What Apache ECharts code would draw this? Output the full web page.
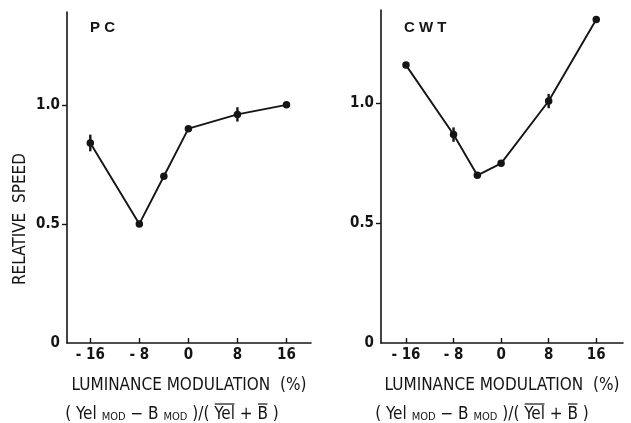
<!DOCTYPE html>
<html>
<head>
<meta charset="utf-8">
<script src="https://cdn.jsdelivr.net/npm/echarts@6/dist/echarts.min.js"></script>
<style>html,body{margin:0;padding:0;background:#fff}#c{width:631px;height:423px}</style>
</head>
<body>
<div id="c"></div>
<script>
const xValues = [-16, -8, -4, 0, 8, 16];
const pcSpeed = [0.84, 0.50, 0.70, 0.90, 0.96, 1.00];
const cwtSpeed = [1.16, 0.87, 0.70, 0.75, 1.01, 1.35];
const pcErr = [0.035, 0, 0, 0, 0.03, 0];
const cwtErr = [0, 0.03, 0, 0, 0.03, 0];
const xTicks = [-16, -8, 0, 8, 16];
const yTicks = [0, 0.5, 1.0];
const panelTitles = ['P C', 'C W T'];
const xName = 'LUMINANCE MODULATION  (%)';
const yName = 'RELATIVE  SPEED';

const FONT = "'Liberation Sans Narrow','DejaVu Sans Condensed','Roboto Condensed','Liberation Sans',sans-serif";
const INK = '#151515';

const chart = echarts.init(document.getElementById('c'), null, {renderer: 'canvas'});

function xAxisDef(idx, min, max) {
  return {
    type: 'value', gridIndex: idx, min: min, max: max,
    axisLine: {show: true, onZero: false, lineStyle: {color: INK, width: 1.6}},
    axisTick: {show: true, inside: true, length: 5, customValues: xTicks, lineStyle: {color: INK, width: 1.4}},
    axisLabel: {customValues: xTicks, color: INK, fontFamily: FONT, fontWeight: 'bold', fontSize: 15, margin: 5,
      formatter: v => v < 0 ? '- ' + Math.abs(v) : String(v)},
    splitLine: {show: false},
    name: xName, nameLocation: 'middle', nameGap: 34,
    nameTextStyle: {color: INK, fontFamily: FONT, fontSize: 17}
  };
}
function yAxisDef(idx) {
  return {
    type: 'value', gridIndex: idx, min: 0, max: 1.39,
    axisLine: {show: true, onZero: false, lineStyle: {color: INK, width: 1.6}},
    axisTick: {show: true, length: 5, customValues: [0.5, 1.0], lineStyle: {color: INK, width: 1.4}},
    axisLabel: {customValues: yTicks, color: INK, fontFamily: FONT, fontWeight: 'bold', fontSize: 15, margin: 7,
      formatter: v => v === 0 ? '0' : v.toFixed(1)},
    splitLine: {show: false}
  };
}
function pts(ys) { return xValues.map((x, i) => [x, ys[i]]); }
function errPts(ys, es) { return xValues.map((x, i) => [x, ys[i], es[i]]); }
function errRender(params, api) {
  const x = api.value(0), y = api.value(1), e = api.value(2);
  if (!e) return;
  const a = api.coord([x, y + e]), b = api.coord([x, y - e]);
  return {type: 'line', shape: {x1: a[0], y1: a[1], x2: b[0], y2: b[1]}, style: {stroke: INK, lineWidth: 2.4}};
}
function lineSeries(idx, ys) {
  return {type: 'line', xAxisIndex: idx, yAxisIndex: idx, data: pts(ys), symbol: 'circle', symbolSize: 7.5,
    itemStyle: {color: INK}, lineStyle: {color: INK, width: 1.9}, animation: false, z: 3};
}
function errSeries(idx, ys, es) {
  return {type: 'custom', xAxisIndex: idx, yAxisIndex: idx, data: errPts(ys, es), renderItem: errRender,
    encode: {x: 0, y: 1}, animation: false, z: 4};
}

// formula built from measured text pieces (overline drawn above "Yel" and "B")
const mctx = document.createElement('canvas').getContext('2d');
const formulaParts = [
  {t: '( Yel ', size: 17}, {t: 'MOD', size: 11, dy: 2}, {t: ' \u2212 B ', size: 17},
  {t: 'MOD', size: 11, dy: 2}, {t: ' )/( ', size: 17}, {t: 'Yel', size: 17, over: true},
  {t: ' + ', size: 17}, {t: 'B', size: 17, over: true}, {t: ' )', size: 17}
];
function formula(cx, cy) {
  const widths = formulaParts.map(p => { mctx.font = p.size + 'px ' + FONT; return mctx.measureText(p.t).width; });
  const total = widths.reduce((a, b) => a + b, 0);
  let x = cx - total / 2;
  const children = [];
  formulaParts.forEach((p, i) => {
    children.push({type: 'text', x: x, y: cy + (p.dy || 0),
      style: {text: p.t, fontFamily: FONT, fontSize: p.size, fill: INK, align: 'left', verticalAlign: 'middle'}});
    if (p.over) {
      children.push({type: 'line', shape: {x1: x + 0.5, y1: cy - 11, x2: x + widths[i] - 0.5, y2: cy - 11}, style: {stroke: INK, lineWidth: 1.2}});
    }
    x += widths[i];
  });
  return {type: 'group', children: children};
}

chart.setOption({
  backgroundColor: '#fff',
  animation: false,
  title: [
    {text: panelTitles[0], left: 85, top: 15, textStyle: {fontFamily: "'Liberation Sans',Arial,sans-serif", fontWeight: 'bold', fontSize: 15, color: INK}},
    {text: panelTitles[1], left: 399, top: 15, textStyle: {fontFamily: "'Liberation Sans',Arial,sans-serif", fontWeight: 'bold', fontSize: 15, color: INK}}
  ],
  grid: [
    {left: 67, right: 320, top: 12, bottom: 80},
    {left: 381, right: 8, top: 10, bottom: 80}
  ],
  xAxis: [xAxisDef(0, -19.8, 20), xAxisDef(1, -20.2, 20.5)],
  yAxis: [yAxisDef(0), yAxisDef(1)],
  series: [
    lineSeries(0, pcSpeed), errSeries(0, pcSpeed, pcErr),
    lineSeries(1, cwtSpeed), errSeries(1, cwtSpeed, cwtErr)
  ],
  graphic: [
    {type: 'text', x: 21, y: 219, rotation: Math.PI / 2,
      style: {text: yName, fontFamily: FONT, fontSize: 17, fill: INK, align: 'center', verticalAlign: 'middle'}},
    formula(172, 415),
    formula(482, 415)
  ]
});
</script>
</body>
</html>
